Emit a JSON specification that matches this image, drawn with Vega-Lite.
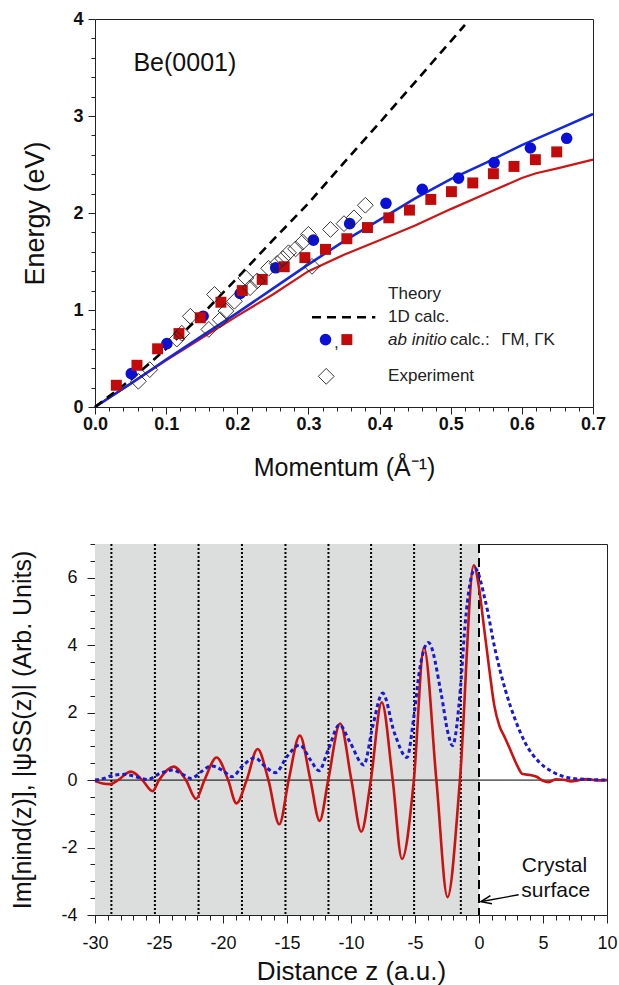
{
  "$schema": "https://vega.github.io/schema/vega-lite/v6.json",
  "padding": {"top": 9, "left": 10, "right": 0, "bottom": 0},
  "spacing": 61,
  "columns": 1,
  "config": {
    "font": "Liberation Sans",
    "view": {"stroke": "#222222", "strokeWidth": 1},
    "axis": {
      "labelFont": "Liberation Sans", "titleFont": "Liberation Sans",
      "domainColor": "#222222", "tickColor": "#222222", "labelColor": "#111111", "titleColor": "#111111",
      "grid": false, "titleFontWeight": "normal", "labelFontSize": 18,
      "labelFlush": false, "labelOverlap": false, "tickWidth": 1
    }
  },
  "datasets": {
    "line1d": [
      {"q": 0, "E": 0}, {"q": 0.05, "E": 0.28}, {"q": 0.1, "E": 0.6}, {"q": 0.15, "E": 0.95},
      {"q": 0.2, "E": 1.33}, {"q": 0.25, "E": 1.72}, {"q": 0.3, "E": 2.1}, {"q": 0.35, "E": 2.52},
      {"q": 0.4, "E": 2.93}, {"q": 0.45, "E": 3.35}, {"q": 0.5, "E": 3.77}, {"q": 0.52, "E": 3.94}
    ],
    "lineGM": [
      {"q": 0, "E": 0}, {"q": 0.05, "E": 0.24}, {"q": 0.1, "E": 0.49}, {"q": 0.15, "E": 0.73},
      {"q": 0.2, "E": 0.97}, {"q": 0.25, "E": 1.22}, {"q": 0.3, "E": 1.47}, {"q": 0.35, "E": 1.71},
      {"q": 0.4, "E": 1.93}, {"q": 0.45, "E": 2.15}, {"q": 0.5, "E": 2.35}, {"q": 0.55, "E": 2.52},
      {"q": 0.6, "E": 2.7}, {"q": 0.65, "E": 2.86}, {"q": 0.7, "E": 3.02}
    ],
    "lineGK": [
      {"q": 0, "E": 0}, {"q": 0.05, "E": 0.24}, {"q": 0.1, "E": 0.48}, {"q": 0.15, "E": 0.71},
      {"q": 0.2, "E": 0.94}, {"q": 0.25, "E": 1.16}, {"q": 0.3, "E": 1.4}, {"q": 0.35, "E": 1.57},
      {"q": 0.4, "E": 1.72}, {"q": 0.45, "E": 1.87}, {"q": 0.5, "E": 2.04}, {"q": 0.55, "E": 2.2},
      {"q": 0.6, "E": 2.36}, {"q": 0.62, "E": 2.41}, {"q": 0.65, "E": 2.46}, {"q": 0.7, "E": 2.55}
    ],
    "ptsGM": [
      {"q": 0.051, "E": 0.344}, {"q": 0.101, "E": 0.654}, {"q": 0.152, "E": 0.936}, {"q": 0.204, "E": 1.17},
      {"q": 0.254, "E": 1.435}, {"q": 0.307, "E": 1.72}, {"q": 0.358, "E": 1.89}, {"q": 0.409, "E": 2.1},
      {"q": 0.46, "E": 2.245}, {"q": 0.511, "E": 2.36}, {"q": 0.561, "E": 2.52}, {"q": 0.612, "E": 2.67},
      {"q": 0.663, "E": 2.77}
    ],
    "ptsGK": [
      {"q": 0.03, "E": 0.224}, {"q": 0.059, "E": 0.43}, {"q": 0.088, "E": 0.6}, {"q": 0.118, "E": 0.757},
      {"q": 0.148, "E": 0.92}, {"q": 0.177, "E": 1.08}, {"q": 0.207, "E": 1.2}, {"q": 0.235, "E": 1.315},
      {"q": 0.266, "E": 1.446}, {"q": 0.295, "E": 1.54}, {"q": 0.324, "E": 1.625}, {"q": 0.354, "E": 1.735},
      {"q": 0.383, "E": 1.85}, {"q": 0.413, "E": 1.95}, {"q": 0.442, "E": 2.03}, {"q": 0.472, "E": 2.14},
      {"q": 0.501, "E": 2.22}, {"q": 0.531, "E": 2.31}, {"q": 0.56, "E": 2.405}, {"q": 0.589, "E": 2.48},
      {"q": 0.619, "E": 2.55}, {"q": 0.649, "E": 2.63}
    ],
    "ptsExp": [
      {"q": 0.061, "E": 0.265}, {"q": 0.077, "E": 0.385}, {"q": 0.115, "E": 0.7}, {"q": 0.122, "E": 0.76},
      {"q": 0.134, "E": 0.935}, {"q": 0.16, "E": 0.8}, {"q": 0.168, "E": 1.16}, {"q": 0.176, "E": 0.9},
      {"q": 0.184, "E": 0.99}, {"q": 0.196, "E": 1.09}, {"q": 0.212, "E": 1.33}, {"q": 0.218, "E": 1.23},
      {"q": 0.228, "E": 1.3}, {"q": 0.244, "E": 1.43}, {"q": 0.256, "E": 1.48}, {"q": 0.264, "E": 1.53},
      {"q": 0.272, "E": 1.59}, {"q": 0.282, "E": 1.63}, {"q": 0.292, "E": 1.7}, {"q": 0.3, "E": 1.78},
      {"q": 0.305, "E": 1.45}, {"q": 0.331, "E": 1.83}, {"q": 0.35, "E": 1.89}, {"q": 0.364, "E": 1.95},
      {"q": 0.38, "E": 2.08}
    ],
    "legText": [
      {"q": 0.412, "E": 1.16, "t": "Theory"},
      {"q": 0.412, "E": 0.925, "t": "1D calc."},
      {"q": 0.499, "E": 0.695, "t": "calc.:"},
      {"q": 0.571, "E": 0.695, "t": "ΓM, ΓK"},
      {"q": 0.412, "E": 0.316, "t": "Experiment"},
      {"q": 0.336, "E": 0.66, "t": ","}
    ],
    "legItalic": [{"q": 0.412, "E": 0.695, "t": "ab initio"}],
    "legDash": [{"q": 0.305, "E": 0.925}, {"q": 0.394, "E": 0.925}],
    "legCircle": [{"q": 0.324, "E": 0.695}],
    "legSquare": [{"q": 0.354, "E": 0.695}],
    "legDiamond": [{"q": 0.325, "E": 0.316}],
    "label": [{"q": 0.054, "E": 3.55, "t": "Be(0001)"}],
    "shade": [{"z": -30, "z1": 0}],
    "layers": [{"z": -28.72}, {"z": -25.32}, {"z": -21.91}, {"z": -18.52}, {"z": -15.12}, {"z": -11.76}, {"z": -8.43}, {"z": -5.07}, {"z": -1.42}],
    "surface": [{"z": 0}],
    "zeroLine": [{"v": 0}],
    "red": [
      {"z": -30, "v": -0.03}, {"z": -29.4, "v": -0.1}, {"z": -28.8, "v": -0.12}, {"z": -28.2, "v": 0},
      {"z": -27.2, "v": 0.25}, {"z": -26.3, "v": 0}, {"z": -25.5, "v": -0.33}, {"z": -25.0, "v": 0},
      {"z": -23.85, "v": 0.4}, {"z": -22.9, "v": 0}, {"z": -22.1, "v": -0.56}, {"z": -21.45, "v": 0},
      {"z": -20.5, "v": 0.67}, {"z": -19.6, "v": 0}, {"z": -18.95, "v": -0.69}, {"z": -18.15, "v": 0},
      {"z": -17.3, "v": 0.92}, {"z": -16.45, "v": 0}, {"z": -15.6, "v": -1.31}, {"z": -14.87, "v": 0},
      {"z": -14.0, "v": 1.32}, {"z": -13.17, "v": 0}, {"z": -12.45, "v": -1.21}, {"z": -11.78, "v": 0},
      {"z": -10.85, "v": 1.68}, {"z": -9.97, "v": 0}, {"z": -9.2, "v": -1.53}, {"z": -8.45, "v": 0},
      {"z": -7.6, "v": 2.31}, {"z": -6.74, "v": 0}, {"z": -6.02, "v": -2.34}, {"z": -5.09, "v": 0},
      {"z": -4.3, "v": 3.93}, {"z": -3.33, "v": 0}, {"z": -2.46, "v": -3.47}, {"z": -1.49, "v": 0},
      {"z": -0.4, "v": 6.37}, {"z": 0.0, "v": 5.7}, {"z": 0.4, "v": 4.5}, {"z": 0.8, "v": 3.3},
      {"z": 1.2, "v": 2.2}, {"z": 1.6, "v": 1.6}, {"z": 2.0, "v": 1.28}, {"z": 2.5, "v": 0.85},
      {"z": 3.0, "v": 0.42}, {"z": 3.4, "v": 0.18}, {"z": 4.0, "v": 0.15}, {"z": 4.5, "v": 0.1},
      {"z": 5.0, "v": -0.02}, {"z": 5.4, "v": -0.06}, {"z": 6.0, "v": 0.02}, {"z": 6.6, "v": 0.01},
      {"z": 7.2, "v": -0.04}, {"z": 7.8, "v": 0.0}, {"z": 8.5, "v": 0.03}, {"z": 9.2, "v": -0.01},
      {"z": 10, "v": 0}
    ],
    "blue": [
      {"z": -30, "v": 0.0}, {"z": -29.3, "v": 0.05}, {"z": -28.8, "v": 0.12}, {"z": -27.7, "v": 0.17},
      {"z": -26.8, "v": 0.1}, {"z": -25.9, "v": 0.02}, {"z": -24.9, "v": 0.2}, {"z": -23.9, "v": 0.3},
      {"z": -23.2, "v": 0.18}, {"z": -22.5, "v": 0.05}, {"z": -21.7, "v": 0.25}, {"z": -20.9, "v": 0.42},
      {"z": -20.0, "v": 0.28}, {"z": -19.3, "v": 0.1}, {"z": -18.4, "v": 0.45}, {"z": -17.5, "v": 0.66},
      {"z": -16.7, "v": 0.4}, {"z": -15.9, "v": 0.22}, {"z": -15.0, "v": 0.7}, {"z": -14.0, "v": 1.04},
      {"z": -13.17, "v": 0.6}, {"z": -12.5, "v": 0.28}, {"z": -11.78, "v": 0.9}, {"z": -10.9, "v": 1.64},
      {"z": -10.1, "v": 1.14}, {"z": -9.0, "v": 0.45}, {"z": -8.3, "v": 1.6}, {"z": -7.53, "v": 2.58},
      {"z": -6.6, "v": 1.39}, {"z": -5.63, "v": 0.67}, {"z": -5.09, "v": 1.88}, {"z": -4.64, "v": 3.27},
      {"z": -3.95, "v": 4.08}, {"z": -2.95, "v": 2.55}, {"z": -2.42, "v": 1.39}, {"z": -2.07, "v": 1.02},
      {"z": -1.44, "v": 2.77}, {"z": -1.1, "v": 4.55}, {"z": -0.3, "v": 6.27}, {"z": 0.48, "v": 5.34},
      {"z": 1.27, "v": 3.85}, {"z": 2.06, "v": 2.67}, {"z": 2.84, "v": 1.78}, {"z": 3.63, "v": 1.09},
      {"z": 4.68, "v": 0.54}, {"z": 5.73, "v": 0.25}, {"z": 7.3, "v": 0.05}, {"z": 8.5, "v": 0.02},
      {"z": 10, "v": 0.0}
    ],
    "crystalText": [{"z": 5.9, "v": -2.55, "t": "Crystal"}, {"z": 6.0, "v": -3.29, "t": "surface"}],
    "arrowLine": [{"z": 3.1, "v": -3.4}, {"z": 0.2, "v": -3.6}],
    "arrowHead": [{"z": 0.55, "v": -3.575}]
  },
  "concat": [
    {
      "width": 498,
      "height": 388,
      "resolve": {"axis": {"x": "independent", "y": "independent"}},
      "layer": [
        {
          "layer": [
            {
              "data": {"name": "lineGK"},
              "mark": {"type": "line", "color": "#d01515", "strokeWidth": 2.2},
              "encoding": {
                "x": {
                  "field": "q", "type": "quantitative", "scale": {"domain": [0, 0.7], "nice": false},
                  "title": "Momentum (Å⁻¹)",
                  "axis": {
                    "values": [0, 0.1, 0.2, 0.3, 0.4, 0.5, 0.6, 0.7], "format": ".1f", "orient": "bottom",
                    "tickSize": 7, "labelOverlap": false, "labelFontWeight": "bold", "labelFontSize": 18,
                    "labelPadding": 1, "titlePadding": 22, "titleFontSize": 25
                  }
                },
                "y": {
                  "field": "E", "type": "quantitative", "scale": {"domain": [0, 4], "nice": false},
                  "title": "Energy (eV)",
                  "axis": {
                    "values": [0, 1, 2, 3, 4], "format": "d", "orient": "left",
                    "tickSize": 7, "labelOverlap": false, "labelFontWeight": "bold", "labelFontSize": 18,
                    "labelPadding": 5, "titlePadding": 23, "titleFontSize": 27
                  }
                }
              }
            },
            {
              "data": {"name": "lineGM"},
              "mark": {"type": "line", "color": "#1428e0", "strokeWidth": 2.6},
              "encoding": {"x": {"field": "q", "type": "quantitative"}, "y": {"field": "E", "type": "quantitative"}}
            },
            {
              "data": {"name": "line1d"},
              "mark": {"type": "line", "color": "#000000", "strokeWidth": 2.6, "strokeDash": [9, 6]},
              "encoding": {"x": {"field": "q", "type": "quantitative"}, "y": {"field": "E", "type": "quantitative"}}
            },
            {
              "data": {"name": "ptsGM"},
              "mark": {"type": "point", "shape": "circle", "filled": true, "color": "#0a10d8", "opacity": 1, "size": 135},
              "encoding": {"x": {"field": "q", "type": "quantitative"}, "y": {"field": "E", "type": "quantitative"}}
            },
            {
              "data": {"name": "ptsGK"},
              "mark": {"type": "point", "shape": "square", "filled": true, "color": "#c20a0a", "opacity": 1, "size": 120},
              "encoding": {"x": {"field": "q", "type": "quantitative"}, "y": {"field": "E", "type": "quantitative"}}
            },
            {
              "data": {"name": "ptsExp"},
              "mark": {"type": "point", "shape": "diamond", "filled": false, "color": "#222222", "strokeWidth": 0.9, "opacity": 1, "size": 250},
              "encoding": {"x": {"field": "q", "type": "quantitative"}, "y": {"field": "E", "type": "quantitative"}}
            },
            {
              "data": {"name": "legDash"},
              "mark": {"type": "line", "color": "#000000", "strokeWidth": 2.6, "strokeDash": [9, 6]},
              "encoding": {"x": {"field": "q", "type": "quantitative"}, "y": {"field": "E", "type": "quantitative"}}
            },
            {
              "data": {"name": "legCircle"},
              "mark": {"type": "point", "shape": "circle", "filled": true, "color": "#0a10d8", "opacity": 1, "size": 135},
              "encoding": {"x": {"field": "q", "type": "quantitative"}, "y": {"field": "E", "type": "quantitative"}}
            },
            {
              "data": {"name": "legSquare"},
              "mark": {"type": "point", "shape": "square", "filled": true, "color": "#c20a0a", "opacity": 1, "size": 120},
              "encoding": {"x": {"field": "q", "type": "quantitative"}, "y": {"field": "E", "type": "quantitative"}}
            },
            {
              "data": {"name": "legDiamond"},
              "mark": {"type": "point", "shape": "diamond", "filled": false, "color": "#222222", "strokeWidth": 0.9, "opacity": 1, "size": 250},
              "encoding": {"x": {"field": "q", "type": "quantitative"}, "y": {"field": "E", "type": "quantitative"}}
            },
            {
              "data": {"name": "legText"},
              "mark": {"type": "text", "align": "left", "baseline": "middle", "fontSize": 17, "color": "#222222"},
              "encoding": {"x": {"field": "q", "type": "quantitative"}, "y": {"field": "E", "type": "quantitative"}, "text": {"field": "t"}}
            },
            {
              "data": {"name": "legItalic"},
              "mark": {"type": "text", "align": "left", "baseline": "middle", "fontSize": 17, "fontStyle": "italic", "color": "#222222"},
              "encoding": {"x": {"field": "q", "type": "quantitative"}, "y": {"field": "E", "type": "quantitative"}, "text": {"field": "t"}}
            },
            {
              "data": {"name": "label"},
              "mark": {"type": "text", "align": "left", "baseline": "middle", "fontSize": 25, "color": "#111111"},
              "encoding": {"x": {"field": "q", "type": "quantitative"}, "y": {"field": "E", "type": "quantitative"}, "text": {"field": "t"}}
            }
          ]
        },
        {
          "data": {"name": "legCircle"},
          "mark": {"type": "point", "opacity": 0},
          "encoding": {
            "x": {"field": "q", "type": "quantitative", "axis": {
              "values": [0.02, 0.04, 0.06, 0.08, 0.12, 0.14, 0.16, 0.18, 0.22, 0.24, 0.26, 0.28, 0.32, 0.34, 0.36, 0.38, 0.42, 0.44, 0.46, 0.48, 0.52, 0.54, 0.56, 0.58, 0.62, 0.64, 0.66, 0.68],
              "labels": false, "domain": false, "tickSize": 4, "title": null, "orient": "bottom"}},
            "y": {"field": "E", "type": "quantitative", "axis": {
              "values": [0.2, 0.4, 0.6, 0.8, 1.2, 1.4, 1.6, 1.8, 2.2, 2.4, 2.6, 2.8, 3.2, 3.4, 3.6, 3.8],
              "labels": false, "domain": false, "tickSize": 4, "title": null, "orient": "left"}}
          }
        }
      ]
    },
    {
      "width": 512,
      "height": 371,
      "resolve": {"axis": {"x": "independent", "y": "independent"}},
      "layer": [
        {
          "layer": [
            {
              "data": {"name": "shade"},
              "mark": {"type": "rect", "color": "#dcdddd", "opacity": 1},
              "encoding": {
                "x": {
                  "field": "z", "type": "quantitative", "scale": {"domain": [-30, 10], "nice": false},
                  "title": "Distance z (a.u.)",
                  "axis": {
                    "values": [-30, -25, -20, -15, -10, -5, 0, 5, 10], "labelExpr": "'' + datum.value", "orient": "bottom",
                    "tickSize": 8, "labelOverlap": false, "labelFontSize": 18,
                    "labelPadding": 11, "titlePadding": 6, "titleFontSize": 26
                  }
                },
                "x2": {"field": "z1"}
              }
            },
            {
              "data": {"name": "layers"},
              "mark": {"type": "rule", "color": "#000000", "strokeWidth": 2, "strokeDash": [2, 2]},
              "encoding": {"x": {"field": "z", "type": "quantitative"}}
            },
            {
              "data": {"name": "surface"},
              "mark": {"type": "rule", "color": "#000000", "strokeWidth": 2, "strokeDash": [9, 5]},
              "encoding": {"x": {"field": "z", "type": "quantitative"}}
            },
            {
              "data": {"name": "zeroLine"},
              "mark": {"type": "rule", "color": "#000000", "strokeWidth": 1},
              "encoding": {
                "y": {
                  "field": "v", "type": "quantitative", "scale": {"domain": [-4, 7], "nice": false},
                  "title": "Im[nind(z)], |ψSS(z)| (Arb. Units)",
                  "axis": {
                    "values": [-4, -2, 0, 2, 4, 6], "labelExpr": "'' + datum.value", "orient": "left",
                    "tickSize": 8, "labelOverlap": false, "labelFontSize": 18,
                    "labelPadding": 10, "titlePadding": 25, "titleFontSize": 25
                  }
                }
              }
            },
            {
              "data": {"name": "red"},
              "mark": {"type": "line", "color": "#cc1111", "strokeWidth": 2.6, "interpolate": "monotone"},
              "encoding": {"x": {"field": "z", "type": "quantitative"}, "y": {"field": "v", "type": "quantitative"}}
            },
            {
              "data": {"name": "blue"},
              "mark": {"type": "line", "color": "#1a1ad0", "strokeWidth": 3, "strokeDash": [4, 3], "interpolate": "monotone"},
              "encoding": {"x": {"field": "z", "type": "quantitative"}, "y": {"field": "v", "type": "quantitative"}}
            },
            {
              "data": {"name": "arrowLine"},
              "mark": {"type": "line", "color": "#000000", "strokeWidth": 1.3},
              "encoding": {"x": {"field": "z", "type": "quantitative"}, "y": {"field": "v", "type": "quantitative"}}
            },
            {
              "data": {"name": "arrowHead"},
              "mark": {"type": "point", "shape": "M 1 -0.8 L -1 0 L 1 0.8", "filled": false, "color": "#000000", "strokeWidth": 1.5, "size": 110, "opacity": 1, "angle": 349},
              "encoding": {"x": {"field": "z", "type": "quantitative"}, "y": {"field": "v", "type": "quantitative"}}
            },
            {
              "data": {"name": "crystalText"},
              "mark": {"type": "text", "align": "center", "baseline": "middle", "fontSize": 21, "color": "#111111"},
              "encoding": {"x": {"field": "z", "type": "quantitative"}, "y": {"field": "v", "type": "quantitative"}, "text": {"field": "t"}}
            }
          ]
        },
        {
          "data": {"name": "surface"},
          "mark": {"type": "point", "opacity": 0},
          "encoding": {
            "x": {"field": "z", "type": "quantitative", "axis": {
              "values": [-29, -28, -27, -26, -24, -23, -22, -21, -19, -18, -17, -16, -14, -13, -12, -11, -9, -8, -7, -6, -4, -3, -2, -1, 1, 2, 3, 4, 6, 7, 8, 9],
              "labels": false, "domain": false, "tickSize": 5, "title": null, "orient": "bottom"}},
            "y": {"datum": 0, "type": "quantitative", "axis": {
              "values": [-3.5, -3, -2.5, -1.5, -1, -0.5, 0.5, 1, 1.5, 2.5, 3, 3.5, 4.5, 5, 5.5, 6.5, 7],
              "labels": false, "domain": false, "tickSize": 5, "title": null, "orient": "left"}}
          }
        }
      ]
    }
  ]
}
